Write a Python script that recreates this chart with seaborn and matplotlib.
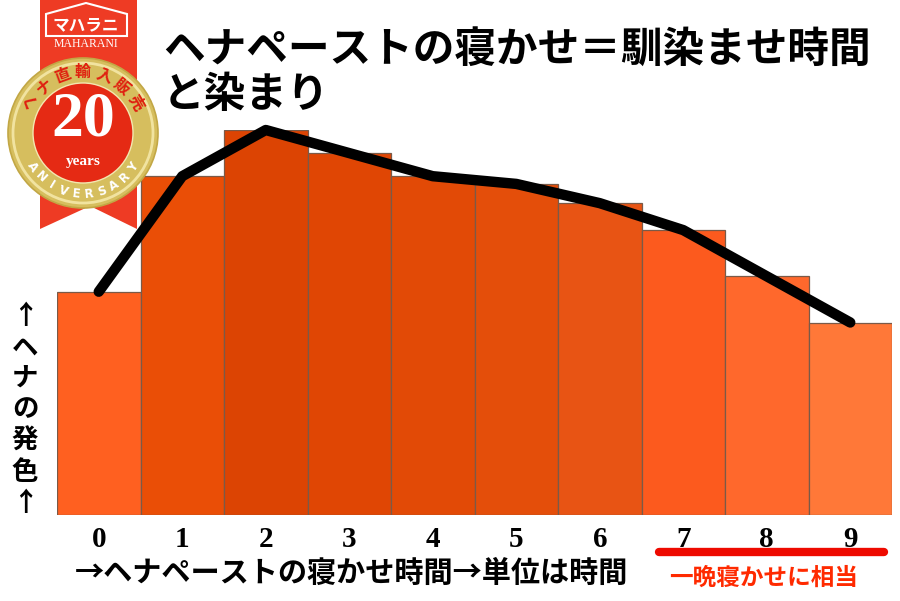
import numpy as np
import pandas as pd
import matplotlib
matplotlib.use("Agg")
import matplotlib.pyplot as plt
import matplotlib.patches as mpatches
import seaborn as sns

# ---------------- data ----------------
hours = [0, 1, 2, 3, 4, 5, 6, 7, 8, 9]
color_strength = [58, 88, 100, 94, 88, 86, 81, 74, 62, 50]
bar_colors = ["#FF6020", "#EA4E06", "#DC4403", "#E04604", "#E24A06",
              "#E44E0A", "#E85414", "#FC5A1E", "#FF682C", "#FF7838"]

title_lines = ["ヘナペーストの寝かせ＝馴染ませ時間", "と染まり"]
xlabel_text = "→ヘナペーストの寝かせ時間→単位は時間"
ylabel_chars = ["↑", "ヘ", "ナ", "の", "発", "色", "↑"]
note_text = "一晩寝かせに相当"

CJK = ["Noto Sans CJK JP", "DejaVu Sans"]
SERIF = ["Liberation Serif", "DejaVu Serif"]

sns.set_theme(style="white")
plt.rcParams["font.family"] = CJK

W, H = 900, 601
fig = plt.figure(figsize=(W / 100, H / 100), dpi=100)
fig.patch.set_facecolor("white")

def fx(px):
    return px / W

def fy(py):
    return 1 - py / H

# ---------------- main chart ----------------
ax = fig.add_axes([fx(57), fy(515), (892 - 57) / W, 385 / H])
df = pd.DataFrame({"hour": hours, "value": color_strength})
sns.barplot(data=df, x="hour", y="value", hue="hour", palette=bar_colors,
            width=1.0, saturation=1, edgecolor="#7a5a48", linewidth=0.9,
            legend=False, ax=ax)
sns.lineplot(x=np.array(hours), y=np.array(color_strength), color="black",
             linewidth=7.5, ax=ax, clip_on=False, zorder=5)
for ln in ax.lines:
    ln.set_solid_capstyle("round")
    ln.set_solid_joinstyle("round")

ax.set_xlim(-0.5, 9.5)
ax.set_ylim(0, 100)
ax.set_xlabel("")
ax.set_ylabel("")
ax.set_yticks([])
for s in ax.spines.values():
    s.set_visible(False)
ax.tick_params(axis="x", length=0, pad=8)
for lab in ax.get_xticklabels():
    lab.set_fontfamily(SERIF)
    lab.set_fontweight("bold")
    lab.set_fontsize(21)
    lab.set_color("black")
ax.set_facecolor("none")

# ---------------- texts ----------------
fig.text(fx(163), fy(50), title_lines[0], ha="left", va="center",
         fontsize=30, fontweight="bold", color="black", family=CJK)
fig.text(fx(163), fy(95), title_lines[1], ha="left", va="center",
         fontsize=30, fontweight="bold", color="black", family=CJK)

fig.text(fx(352), fy(573), xlabel_text, ha="center", va="center",
         fontsize=21, fontweight="bold", color="black", family=CJK)
fig.text(fx(764), fy(578), note_text, ha="center", va="center",
         fontsize=17, fontweight="bold", color="#FF2A00", family=CJK)

fig.text(fx(25), fy(410), "\n".join(ylabel_chars), ha="center", va="center",
         fontsize=19, fontweight="bold", linespacing=1.2, color="black",
         family=CJK)

# ---------------- overlay for decorations (pixel coords) ----------------
ov = fig.add_axes([0, 0, 1, 1])
ov.set_xlim(0, W)
ov.set_ylim(H, 0)
ov.axis("off")
ov.patch.set_alpha(0)

# red underline under 7-9
ov.plot([659, 884], [552, 552], color="#EE0A00", linewidth=6,
        solid_capstyle="round")

# logo ribbon
ribbon = mpatches.Polygon([(40, 0), (137, 0), (137, 229), (90, 206), (40, 229)],
                          closed=True, facecolor="#EE3B24", edgecolor="none")
ov.add_patch(ribbon)
house = mpatches.Polygon([(46, 14), (86, 3), (127, 14), (127, 36), (46, 36)],
                         closed=True, facecolor="none", edgecolor="white",
                         linewidth=1.5)
ov.add_patch(house)
ov.text(86, 25, "マハラニ", ha="center", va="center", color="white",
        fontsize=12, fontweight="bold", family=CJK)
ov.text(86, 44, "MAHARANI", ha="center", va="center", color="white",
        fontsize=8.5, family=SERIF)

cx, cy = 83, 133
ov.add_patch(mpatches.Circle((cx, cy), 75, facecolor="#D6BE5E",
                             edgecolor="#C2A745", linewidth=1.2))
ov.add_patch(mpatches.Circle((cx, cy), 70, facecolor="none",
                             edgecolor="#F1E3A0", linewidth=2))
ov.add_patch(mpatches.Circle((cx, cy), 50, facecolor="#E52A14",
                             edgecolor="#F3E7B0", linewidth=1))
ov.text(cx, 120, "20", ha="center", va="center", color="white",
        fontsize=46, fontweight="bold", family=SERIF)
ov.text(cx, 162, "years", ha="center", va="center", color="white",
        fontsize=11, fontweight="bold", family=SERIF)

top_chars = list("ヘナ直輸入販売")
for i, ch in enumerate(top_chars):
    a = np.deg2rad(150 - i * 20)
    r = 61
    ov.text(cx + r * np.cos(a), cy - r * np.sin(a), ch, ha="center",
            va="center", rotation=np.rad2deg(a) - 90, color="#E02010",
            fontsize=11.5, fontweight="bold", family=CJK)

bot_chars = list("ANIVERSARY")
for i, ch in enumerate(bot_chars):
    a = np.deg2rad(-146 + i * 12.4)
    r = 61
    ov.text(cx + r * np.cos(a), cy - r * np.sin(a), ch, ha="center",
            va="center", rotation=np.rad2deg(a) + 90, color="white",
            fontsize=8.5, fontweight="bold", family=["DejaVu Sans"])

fig.savefig("out.png", dpi=100, facecolor="white")
